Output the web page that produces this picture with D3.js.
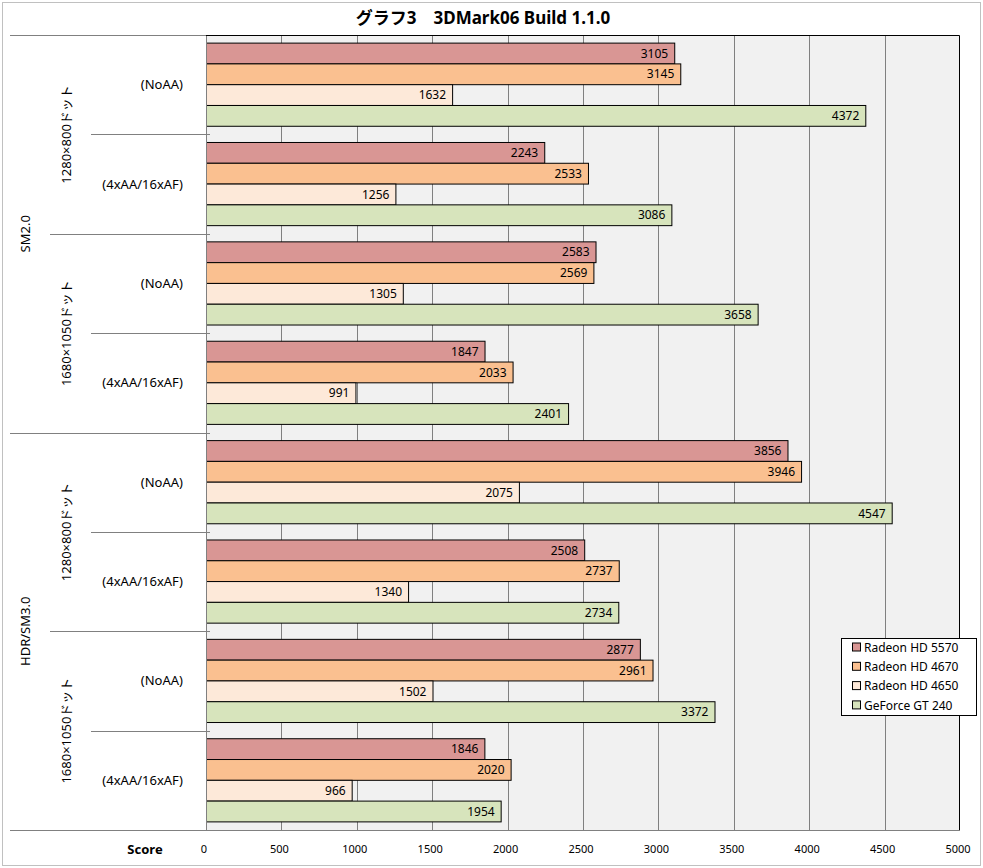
<!DOCTYPE html>
<html>
<head>
<meta charset="utf-8">
<script src="https://cdn.jsdelivr.net/npm/d3@7"></script>
<style>
  body { margin: 0; background: #fff; }
  text { font-family: "Noto Sans", "Noto Sans CJK JP", sans-serif; }
</style>
</head>
<body>
<svg id="chart" width="983" height="868"></svg>
<script>
// ---- data ----
var series = ["Radeon HD 5570", "Radeon HD 4670", "Radeon HD 4650", "GeForce GT 240"];
var colors = ["#d99694", "#fac090", "#fde9d9", "#d7e4bc"];
var leafLabels = ["(NoAA)", "(4xAA/16xAF)", "(NoAA)", "(4xAA/16xAF)",
                  "(NoAA)", "(4xAA/16xAF)", "(NoAA)", "(4xAA/16xAF)"];
var midLabels = ["1280×800ドット", "1680×1050ドット", "1280×800ドット", "1680×1050ドット"];
var topLabels = ["SM2.0", "HDR/SM3.0"];
var hd5570 = [3105, 2243, 2583, 1847, 3856, 2508, 2877, 1846];
var hd4670 = [3145, 2533, 2569, 2033, 3946, 2737, 2961, 2020];
var hd4650 = [1632, 1256, 1305, 991, 2075, 1340, 1502, 966];
var gt240  = [4372, 3086, 3658, 2401, 4547, 2734, 3372, 1954];
var ticks = d3.range(0, 5001, 500);

var values = [hd5570, hd4670, hd4650, gt240];

var svg = d3.select("#chart");
var pLeft = 206, pRight = 960, pTop = 35, pBottom = 830;

// outer frame
svg.append("rect").attr("x", 2.5).attr("y", 2.5).attr("width", 978).attr("height", 863)
    .attr("fill", "#fff").attr("stroke", "#c0c0c0");

svg.append("text").attr("x", 483).attr("y", 24).attr("text-anchor", "middle")
    .style("font-size", "17px").style("font-weight", "bold")
    .text("グラフ3　3DMark06 Build 1.1.0");

var x = d3.scaleLinear().domain([0, 5000]).range([pLeft, pRight]);
var y = d3.scaleBand().domain(d3.range(leafLabels.length)).range([pTop, pBottom]);
var yInner = d3.scaleBand().domain(d3.range(series.length))
    .range([0, y.bandwidth()]).paddingOuter(0.39);

// plot background + grid
svg.append("rect").attr("x", pLeft).attr("y", pTop).attr("width", pRight - pLeft)
    .attr("height", pBottom - pTop).attr("fill", "#f1f1f1");
svg.append("g").selectAll("line").data(ticks.slice(1, -1)).enter().append("line")
    .attr("x1", function(d) { return Math.round(x(d)) + 0.5; })
    .attr("x2", function(d) { return Math.round(x(d)) + 0.5; })
    .attr("y1", pTop).attr("y2", pBottom).attr("stroke", "#808080");

// bars
var groups = svg.append("g").selectAll("g").data(d3.range(leafLabels.length)).enter()
    .append("g").attr("transform", function(i) { return "translate(0," + y(i) + ")"; });

groups.each(function(gi) {
    var g = d3.select(this);
    var rows = series.map(function(s, si) { return { si: si, v: values[si][gi] }; });
    g.selectAll("rect").data(rows).enter().append("rect")
        .attr("x", pLeft + 0.5)
        .attr("y", function(d) { return yInner(d.si); })
        .attr("width", function(d) { return x(d.v) - pLeft; })
        .attr("height", yInner.bandwidth())
        .attr("fill", function(d) { return colors[d.si]; })
        .attr("stroke", "#000");
    g.selectAll("text").data(rows).enter().append("text")
        .attr("x", function(d) { return x(d.v) - 6; })
        .attr("y", function(d) { return yInner(d.si) + yInner.bandwidth() / 2; })
        .attr("dy", "0.35em").attr("text-anchor", "end")
        .style("font-size", "12px").attr("fill", "#000")
        .text(function(d) { return d.v; });
});

// axes lines: left/bottom gray, top/right black
svg.append("line").attr("x1", 10).attr("x2", pRight).attr("y1", pBottom + 0.5).attr("y2", pBottom + 0.5)
    .attr("stroke", "#808080");
svg.append("line").attr("x1", 10).attr("x2", pLeft).attr("y1", pTop + 0.5).attr("y2", pTop + 0.5)
    .attr("stroke", "#808080");
svg.append("line").attr("x1", pLeft + 0.5).attr("x2", pLeft + 0.5).attr("y1", pTop).attr("y2", pBottom)
    .attr("stroke", "#808080");
svg.append("path").attr("d", "M" + pLeft + "," + (pTop + 0.5) + "H" + (pRight - 0.5) + "V" + pBottom)
    .attr("fill", "none").attr("stroke", "#000");

// category separators (leaf / mid / top level)
d3.range(1, leafLabels.length).forEach(function(i) {
    var x0 = i % 4 === 0 ? 10 : i % 2 === 0 ? 50 : 91;
    svg.append("line").attr("x1", x0).attr("x2", pLeft + 4)
        .attr("y1", Math.round(y(i)) + 0.5).attr("y2", Math.round(y(i)) + 0.5)
        .attr("stroke", "#808080");
});

// category labels
svg.append("g").selectAll("text").data(leafLabels).enter().append("text")
    .attr("x", 183).attr("y", function(d, i) { return y(i) + y.bandwidth() / 2; })
    .attr("dy", "0.35em").attr("text-anchor", "end").style("font-size", "13px")
    .text(function(d) { return d; });
svg.append("g").selectAll("text").data(midLabels).enter().append("text")
    .attr("transform", function(d, i) {
        return "translate(66," + (y(i * 2) + y.bandwidth()) + ") rotate(-90)"; })
    .attr("dy", "0.35em").attr("text-anchor", "middle").style("font-size", "13px")
    .text(function(d) { return d; });
svg.append("g").selectAll("text").data(topLabels).enter().append("text")
    .attr("transform", function(d, i) {
        return "translate(25," + (y(i * 4) + 2 * y.bandwidth()) + ") rotate(-90)"; })
    .attr("dy", "0.35em").attr("text-anchor", "middle").style("font-size", "13px")
    .text(function(d) { return d; });

// x tick labels
svg.append("g").selectAll("text").data(ticks).enter().append("text")
    .attr("x", function(d) { return x(d) - 2; }).attr("y", 853)
    .attr("text-anchor", "middle").style("font-size", "11px")
    .text(function(d) { return d; });
svg.append("text").attr("x", 145).attr("y", 854).attr("text-anchor", "middle")
    .style("font-size", "13px").style("font-weight", "bold").text("Score");

// legend
var lg = svg.append("g").attr("transform", "translate(841,638)");
lg.append("rect").attr("x", 0.5).attr("y", 0.5).attr("width", 135).attr("height", 77)
    .attr("fill", "#fff").attr("stroke", "#000");
var items = lg.selectAll("g").data(series).enter().append("g")
    .attr("transform", function(d, i) { return "translate(0," + (9.5 + i * 19.3) + ")"; });
items.append("rect").attr("x", 11.5).attr("y", -4.5).attr("width", 8).attr("height", 8)
    .attr("fill", function(d, i) { return colors[i]; }).attr("stroke", "#000");
items.append("text").attr("x", 23).attr("dy", "0.35em").style("font-size", "12px")
    .text(function(d) { return d; });
</script>
</body>
</html>
